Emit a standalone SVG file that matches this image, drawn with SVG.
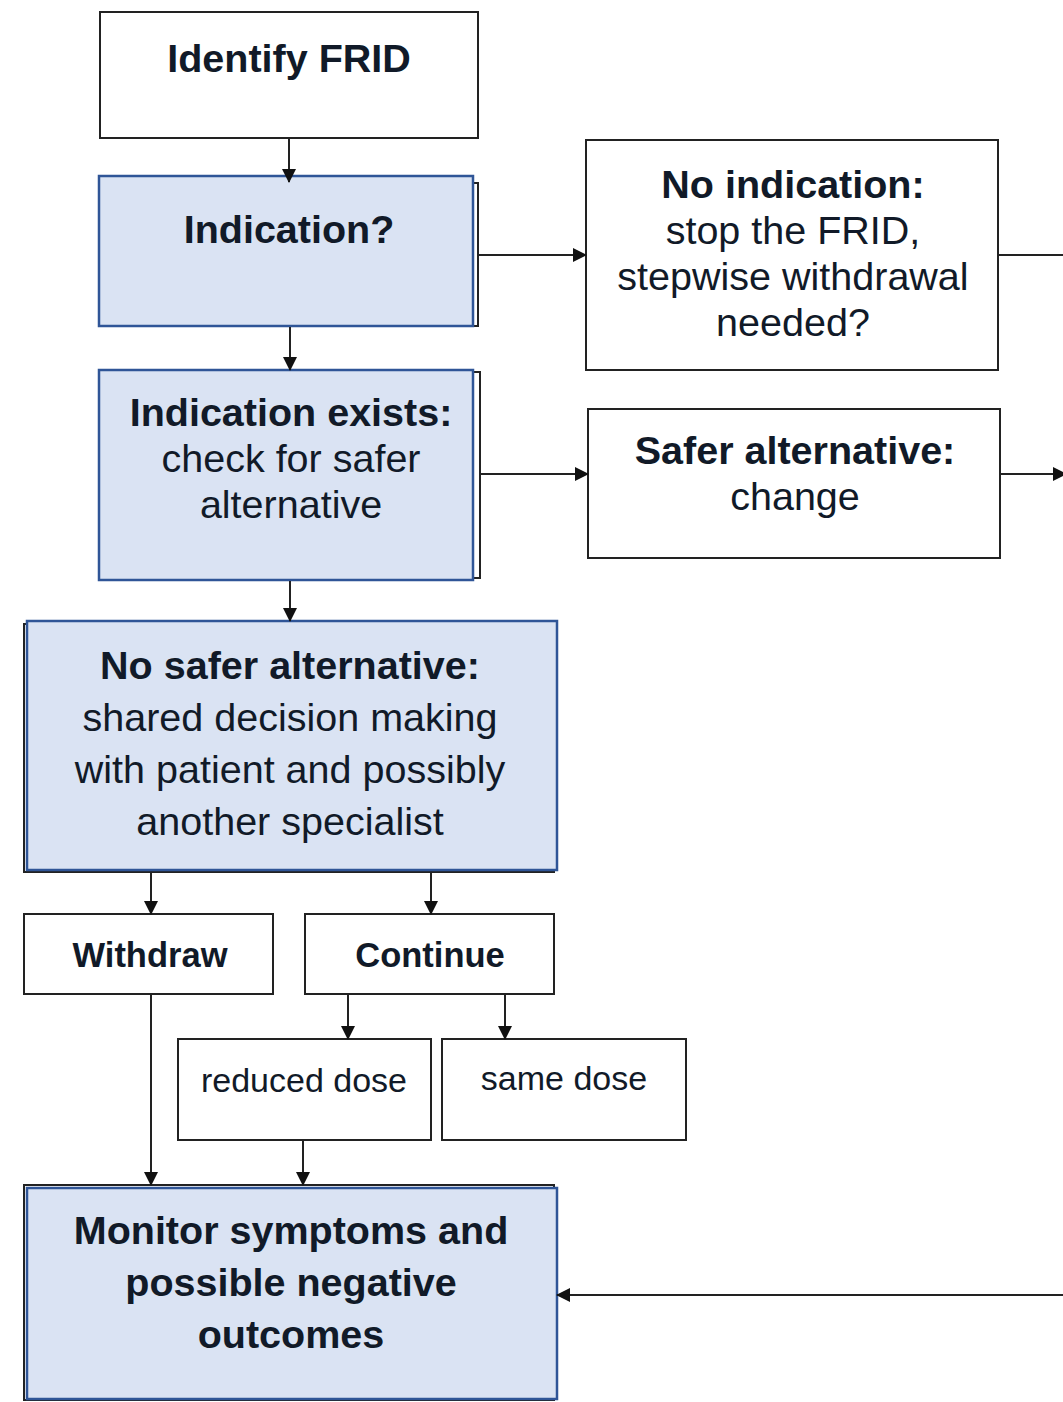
<svg xmlns="http://www.w3.org/2000/svg" width="1063" height="1402" viewBox="0 0 1063 1402">
<defs>
<style>
.box{fill:#ffffff;stroke:#222222;stroke-width:2}
.bk{fill:none;stroke:#222222;stroke-width:2}
.bl{fill:#dae3f3;stroke:#2f5597;stroke-width:2.5}
.t{font-family:"Liberation Sans",Arial,sans-serif;fill:#111a28;text-anchor:middle}
.b{font-weight:bold}
.c{stroke:#222222;stroke-width:2;fill:none}
</style>
<marker id="ah" markerWidth="14" markerHeight="14" refX="13" refY="7" orient="auto" markerUnits="userSpaceOnUse">
<path d="M0,0 L14,7 L0,14 Z" fill="#111111"/>
</marker>
</defs>
<g id="identify">
<rect class="box" x="100" y="12" width="378" height="126"/>
<text class="t b" x="289" y="72" font-size="39.5">Identify FRID</text>
</g>
<g id="indication">
<rect class="bk" x="100" y="183" width="378" height="143"/>
<rect class="bl" x="99" y="176" width="374" height="150"/>
<text class="t b" x="289" y="243" font-size="39.5">Indication?</text>
</g>
<g id="no-indication">
<rect class="box" x="586" y="140" width="412" height="230"/>
<text class="t" x="793" y="198" font-size="39.5"><tspan class="b">No indication:</tspan><tspan x="793" dy="46">stop the FRID,</tspan><tspan x="793" dy="46">stepwise withdrawal</tspan><tspan x="793" dy="46">needed?</tspan></text>
</g>
<g id="indication-exists">
<rect class="bk" x="100" y="372" width="380" height="206"/>
<rect class="bl" x="99" y="370" width="374" height="210"/>
<text class="t" x="291" y="426" font-size="39.5"><tspan class="b">Indication exists:</tspan><tspan x="291" dy="46">check for safer</tspan><tspan x="291" dy="46">alternative</tspan></text>
</g>
<g id="safer-alternative">
<rect class="box" x="588" y="409" width="412" height="149"/>
<text class="t" x="795" y="464" font-size="39.5"><tspan class="b">Safer alternative:</tspan><tspan x="795" dy="46">change</tspan></text>
</g>
<g id="no-safer">
<rect class="bk" x="24" y="624" width="530" height="248"/>
<rect class="bl" x="27" y="621" width="530" height="249"/>
<text class="t" x="290" y="679" font-size="39.5"><tspan class="b">No safer alternative:</tspan><tspan x="290" dy="52">shared decision making</tspan><tspan x="290" dy="52">with patient and possibly</tspan><tspan x="290" dy="52">another specialist</tspan></text>
</g>
<g id="withdraw">
<rect class="box" x="24" y="914" width="249" height="80"/>
<text class="t b" x="150" y="967" font-size="34.5">Withdraw</text>
</g>
<g id="continue">
<rect class="box" x="305" y="914" width="249" height="80"/>
<text class="t b" x="430" y="967" font-size="34.5">Continue</text>
</g>
<g id="reduced-dose">
<rect class="box" x="178" y="1039" width="253" height="101"/>
<text class="t" x="304" y="1092" font-size="34">reduced dose</text>
</g>
<g id="same-dose">
<rect class="box" x="442" y="1039" width="244" height="101"/>
<text class="t" x="564" y="1090" font-size="34">same dose</text>
</g>
<g id="monitor">
<rect class="bk" x="24" y="1185" width="530" height="215"/>
<rect class="bl" x="27" y="1188" width="530" height="211"/>
<text class="t b" x="291" y="1244" font-size="39.5"><tspan>Monitor symptoms and</tspan><tspan x="291" dy="52">possible negative</tspan><tspan x="291" dy="52">outcomes</tspan></text>
</g>
<g id="connectors">
<line class="c" x1="289" y1="138" x2="289" y2="182" marker-end="url(#ah)"/>
<line class="c" x1="290" y1="327" x2="290" y2="370" marker-end="url(#ah)"/>
<line class="c" x1="290" y1="581" x2="290" y2="621" marker-end="url(#ah)"/>
<line class="c" x1="479" y1="255" x2="586" y2="255" marker-end="url(#ah)"/>
<line class="c" x1="481" y1="474" x2="588" y2="474" marker-end="url(#ah)"/>
<line class="c" x1="998" y1="255" x2="1063" y2="255"/>
<line class="c" x1="1000" y1="474" x2="1066" y2="474" marker-end="url(#ah)"/>
<line class="c" x1="1063" y1="1295" x2="557" y2="1295" marker-end="url(#ah)"/>
<line class="c" x1="151" y1="872" x2="151" y2="914" marker-end="url(#ah)"/>
<line class="c" x1="431" y1="872" x2="431" y2="914" marker-end="url(#ah)"/>
<line class="c" x1="348" y1="994" x2="348" y2="1039" marker-end="url(#ah)"/>
<line class="c" x1="505" y1="994" x2="505" y2="1039" marker-end="url(#ah)"/>
<line class="c" x1="151" y1="994" x2="151" y2="1185" marker-end="url(#ah)"/>
<line class="c" x1="303" y1="1140" x2="303" y2="1185" marker-end="url(#ah)"/>
</g>
</svg>
